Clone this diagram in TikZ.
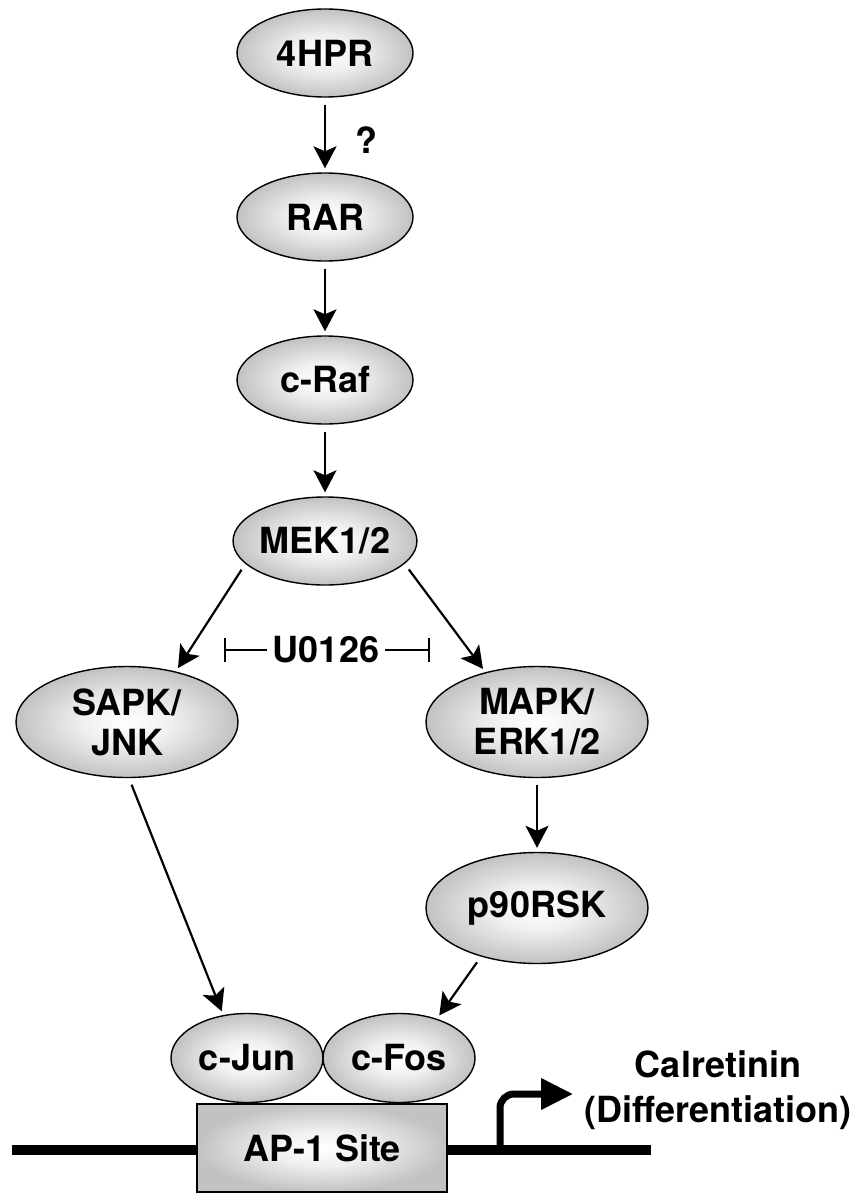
\documentclass[tikz,border=0pt]{standalone}
\usepackage{fontspec}
\setmainfont{TeX Gyre Heros}
\usetikzlibrary{arrows.meta,shapes.geometric}

\pgfdeclareradialshading{nshade}{\pgfpointorigin}{color(0bp)=(white); color(10bp)=(white!94!black); color(25bp)=(white!76!black); color(50bp)=(white!76!black)}

\begin{document}
\begin{tikzpicture}[x=1pt,y=-1pt,font=\fontsize{36}{40}\selectfont\bfseries]
    \tikzstyle{marrs}=[line width=2.2pt,-{Stealth[length=22pt,width=23pt,inset=5pt]},shorten <=7pt,shorten >=4pt]
    \tikzstyle{inh}=[line width=2.2pt,-{Bar[width=24pt,line width=2.2pt]}]
    \tikzstyle{enode}=[ellipse,draw=black,line width=1.4pt,shading=nshade,inner sep=0pt,align=center]
    \tikzstyle{snode}=[enode,minimum width=176pt,minimum height=88pt]
    \tikzstyle{bnode}=[enode,minimum width=222pt,minimum height=111pt]
    \tikzstyle{jnode}=[enode,minimum width=152pt,minimum height=89pt]
    \tikzstyle{sitebox}=[rectangle,draw=black,line width=1.4pt,shading=nshade,minimum width=250pt,minimum height=88pt]

    \useasboundingbox (0,0) rectangle (859,1193);

    % upper chain
    \node[snode] (hpr) at (325,53) {4HPR};
    \node[snode] (rar) at (325,217) {RAR};
    \node[snode] (craf) at (325,380) {c-Raf};
    \node[snode] (mek) at (325,541) {MEK1/2};
    \node (qm) at (366,140) {?};

    \draw[marrs] (hpr) -- (rar);
    \draw[marrs] (rar) -- (craf);
    \draw[marrs] (craf) -- (mek);

    % two branches
    \node[bnode] (sapk) at (127,722) {SAPK/\\JNK};
    \node[bnode] (mapk) at (537,722) {MAPK/\\ERK1/2};
    \node[bnode] (rsk) at (537,908) {p90RSK};

    \draw[marrs] (mek.196) -- (sapk.46);
    \draw[marrs] (mek.-16) -- (mapk.136);
    \draw[marrs] (mapk) -- (rsk);

    % inhibitor
    \node[inner sep=6pt] (u0126) at (326,650) {U0126};
    \coordinate (inhL) at (224,650);
    \coordinate (inhR) at (430,650);
    \draw[inh] (u0126) -- (inhL);
    \draw[inh] (u0126) -- (inhR);

    % promoter
    \coordinate (dnaL) at (12,1150);
    \coordinate (dnaR) at (651,1150);
    \draw[line width=10pt] (dnaL) -- (dnaR);
    \node[sitebox] (ap1) at (322,1148) {AP-1 Site};
    \node[jnode] (cjun) at (247,1058) {c-Jun};
    \node[jnode] (cfos) at (399,1058) {c-Fos};

    \draw[marrs] (sapk.-88) -- (cjun.119);
    \draw[marrs] (rsk.221) -- (cfos.46);

    \coordinate (tss) at (500,1150);
    \coordinate (tssend) at (573,1094);
    \draw[line width=7pt,rounded corners=14pt,-{Triangle[length=32pt,width=30pt]}] (tss) |- (tssend);

    \node[align=center] (calr) at (718,1090) {Calretinin\\[5pt](Differentiation)};
\end{tikzpicture}
\end{document}
